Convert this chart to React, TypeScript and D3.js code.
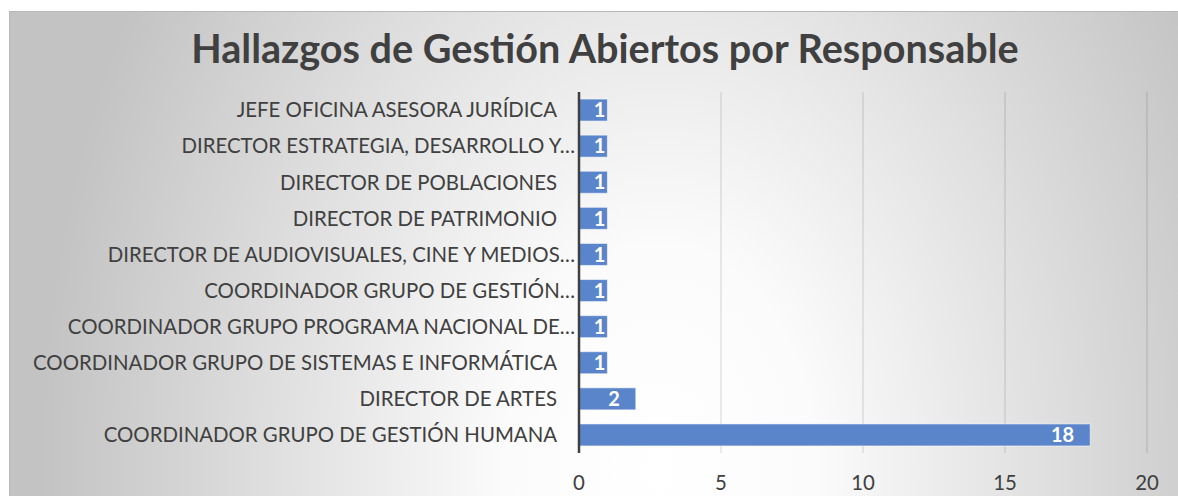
import React from "react";
import * as d3 from "d3";

const TITLE = "Hallazgos de Gestión Abiertos por Responsable";
const categories = [
  "JEFE OFICINA ASESORA JURÍDICA",
  "DIRECTOR ESTRATEGIA, DESARROLLO Y…",
  "DIRECTOR DE POBLACIONES",
  "DIRECTOR DE PATRIMONIO",
  "DIRECTOR DE AUDIOVISUALES, CINE Y MEDIOS…",
  "COORDINADOR GRUPO DE GESTIÓN…",
  "COORDINADOR GRUPO PROGRAMA NACIONAL DE…",
  "COORDINADOR GRUPO DE SISTEMAS E INFORMÁTICA",
  "DIRECTOR DE ARTES",
  "COORDINADOR GRUPO DE GESTIÓN HUMANA",
];
const values = [1, 1, 1, 1, 1, 1, 1, 1, 2, 18];
const xTicks = [0, 5, 10, 15, 20];

const W = 1178;
const H = 496;
const FONT = "Lato, 'Open Sans', sans-serif";

export default function App() {
  const x = d3.scaleLinear().domain([0, 20]).range([579, 1147]);
  const y = d3
    .scaleBand<string>()
    .domain(categories)
    .range([92, 453])
    .paddingInner(0.39)
    .paddingOuter(0.195);

  return (
    <svg
      width={W}
      height={H}
      style={{ position: "absolute", left: 0, top: 0, display: "block" }}
    >
      <defs>
        <radialGradient
          id="bg"
          gradientUnits="userSpaceOnUse"
          cx={660}
          cy={470}
          r={620}
          gradientTransform="translate(660 470) scale(1 1.45) translate(-660 -470)"
        >
          <stop offset="0" stopColor="#ffffff" />
          <stop offset="0.25" stopColor="#fbfbfb" />
          <stop offset="1" stopColor="#c3c3c3" />
        </radialGradient>
      </defs>
      <rect x={0} y={0} width={W} height={H} fill="#ffffff" />
      <rect
        x={9.5}
        y={11.5}
        width={W - 9}
        height={H - 11}
        fill="url(#bg)"
        stroke="#b8b8b8"
        strokeWidth={1}
      />
      <text
        x={605}
        y={63}
        textAnchor="middle"
        fontFamily={FONT}
        fontWeight={700}
        fontSize={39.6}
        fill="#404040"
      >
        {TITLE}
      </text>
      {xTicks.slice(1).map((t) => (
        <line
          key={"g" + t}
          x1={x(t)}
          x2={x(t)}
          y1={92}
          y2={453}
          stroke="rgba(0,0,0,0.16)"
          strokeWidth={1}
        />
      ))}
      {categories.map((c, i) => {
        const v = values[i];
        const x1 = x(v);
        const bw = x1 - x(0);
        const yy = y(c)!;
        const bh = y.bandwidth();
        const pad = bw > 40 ? 16 : 2;
        const labelX = c.endsWith("…") ? x(0) - 4 : x(0) - 22;
        return (
          <g key={c}>
            <rect
              x={x(0)}
              y={yy}
              width={bw}
              height={bh}
              fill="#5B85CB"
              stroke="rgba(255,255,255,0.55)"
              strokeWidth={1}
            />
            <text
              x={x1 - pad}
              y={yy + bh / 2}
              dy="0.36em"
              textAnchor="end"
              fontFamily={FONT}
              fontWeight={700}
              fontSize={20}
              fill="#ffffff"
            >
              {v}
            </text>
            <text
              x={labelX}
              y={yy + bh / 2}
              dy="0.36em"
              textAnchor="end"
              fontFamily={FONT}
              fontSize={20.4}
              fill="#404040"
            >
              {c}
            </text>
          </g>
        );
      })}
      <line x1={x(0)} x2={x(0)} y1={92} y2={453} stroke="#404040" strokeWidth={2.5} />
      {xTicks.map((t) => (
        <text
          key={"t" + t}
          x={x(t)}
          y={483}
          dy="0.36em"
          textAnchor="middle"
          fontFamily={FONT}
          fontSize={20.4}
          fill="#404040"
        >
          {t}
        </text>
      ))}
    </svg>
  );
}
